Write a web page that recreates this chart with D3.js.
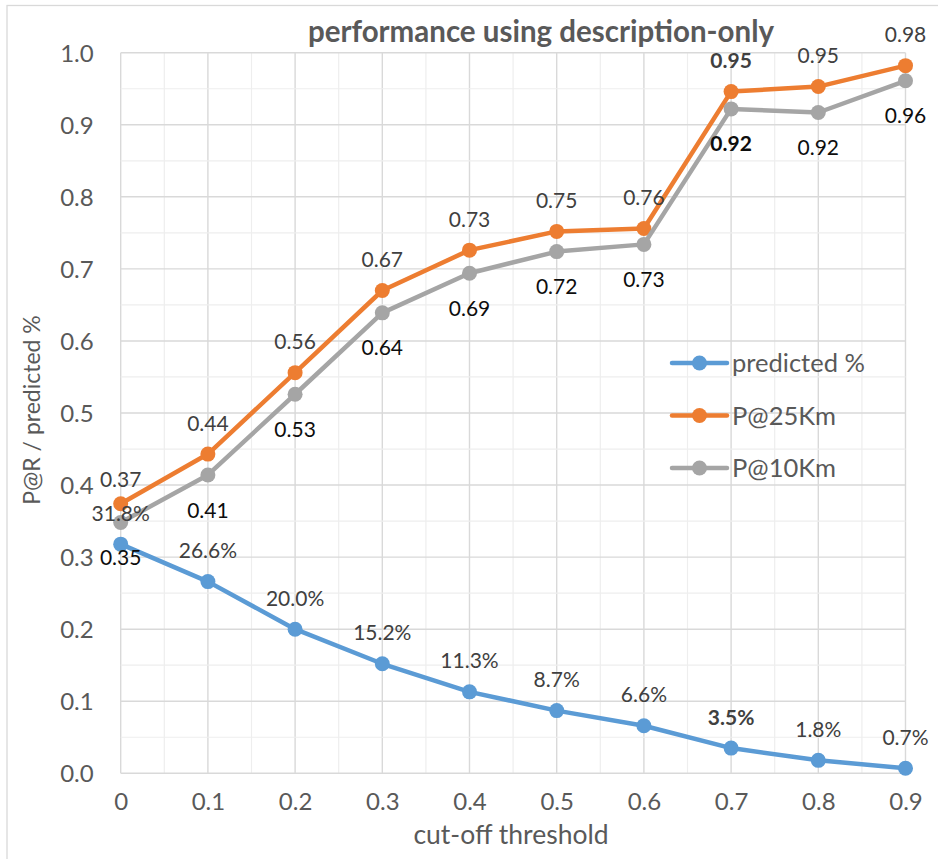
<!DOCTYPE html>
<html>
<head>
<meta charset="utf-8">
<script src="https://cdn.jsdelivr.net/npm/d3@7/dist/d3.min.js"></script>
<style>
  html, body { margin: 0; padding: 0; background: #fff; }
  svg { display: block; font-family: Lato, "Open Sans", sans-serif; }
</style>
</head>
<body>
<svg id="chart" width="938" height="859"></svg>
<script>
// Cut-off thresholds (x categories)
const thresholds = [0, 0.1, 0.2, 0.3, 0.4, 0.5, 0.6, 0.7, 0.8, 0.9];
// Share of items predicted at each threshold
const predicted = [0.318, 0.266, 0.200, 0.152, 0.113, 0.087, 0.066, 0.035, 0.018, 0.007];
// Precision within 25 km
const p25 = [0.374, 0.443, 0.556, 0.670, 0.726, 0.752, 0.756, 0.946, 0.953, 0.982];
// Precision within 10 km
const p10 = [0.348, 0.414, 0.526, 0.639, 0.694, 0.724, 0.734, 0.922, 0.917, 0.961];
const seriesNames = ["predicted %", "P@25Km", "P@10Km"];
const yTicks = [0, 0.1, 0.2, 0.3, 0.4, 0.5, 0.6, 0.7, 0.8, 0.9, 1.0];
const boldIndex = 7;

const svg = d3.select("#chart");
const W = 938, H = 859;
const plotL = 120.7, plotR = 905.5, plotT = 52.7, plotB = 773.3;

const x = d3.scaleLinear().domain([0, 0.9]).range([plotL, plotR]);
const y = d3.scaleLinear().domain([0, 1]).range([plotB, plotT]);

// Outer chart frame
svg.append("rect").attr("x", 7).attr("y", 5.5).attr("width", W + 10).attr("height", H + 10)
  .attr("fill", "#fff").attr("stroke", "#d9d9d9").attr("stroke-width", 1.3);

// Minor and major gridlines every 0.05
const grid = svg.append("g");
const minorX = d3.range(0, 19).map(i => i * 0.05);
const minorY = d3.range(0, 21).map(i => i * 0.05);
minorX.forEach((v, i) => {
  grid.append("line").attr("x1", x(v)).attr("x2", x(v)).attr("y1", plotT).attr("y2", plotB)
    .attr("stroke", i % 2 ? "#eeeeee" : "#d9d9d9").attr("stroke-width", i % 2 ? 1.2 : 1.4);
});
minorY.forEach((v, i) => {
  grid.append("line").attr("x1", plotL).attr("x2", plotR).attr("y1", y(v)).attr("y2", y(v))
    .attr("stroke", i % 2 ? "#eeeeee" : "#d9d9d9").attr("stroke-width", i % 2 ? 1.2 : 1.4);
});

// Axes (labels only)
const xAxis = svg.append("g").attr("transform", `translate(0,${plotB})`)
  .call(d3.axisBottom(x).tickValues(thresholds).tickFormat(d3.format("")).tickSize(0).tickPadding(37));
const yAxis = svg.append("g").attr("transform", `translate(${plotL},0)`)
  .call(d3.axisLeft(y).tickValues(yTicks).tickFormat(d3.format(".1f")).tickSize(0).tickPadding(27));
[xAxis, yAxis].forEach(a => {
  a.select(".domain").remove();
  a.selectAll("text").attr("font-size", 24).attr("fill", "#595959").attr("font-family", "Lato, 'Open Sans', sans-serif");
});
yAxis.selectAll("text").attr("dy", "0.36em");
xAxis.selectAll("text").attr("dy", "0");

// Title and axis titles
svg.append("text").attr("x", 541).attr("y", 42).attr("text-anchor", "middle")
  .attr("font-size", 29.5).attr("font-weight", "bold").attr("fill", "#595959")
  .text("performance using description-only");
svg.append("text").attr("x", 511).attr("y", 844).attr("text-anchor", "middle")
  .attr("font-size", 26.5).attr("fill", "#595959").text("cut-off threshold");
svg.append("text").attr("transform", "translate(40,410) rotate(-90)").attr("text-anchor", "middle")
  .attr("font-size", 23).attr("fill", "#595959").text("P@R / predicted %");

const colors = ["#5b9bd5", "#ed7d31", "#a5a5a5"];
const series = [predicted, p25, p10];
const line = d3.line().x((d, i) => x(thresholds[i])).y(d => y(d));

// Draw in series order so the later series sit on top
series.forEach((vals, s) => {
  const g = svg.append("g");
  g.append("path").datum(vals).attr("d", line).attr("fill", "none")
    .attr("stroke", colors[s]).attr("stroke-width", 4.5).attr("stroke-linejoin", "round");
  g.selectAll("circle").data(vals).join("circle")
    .attr("cx", (d, i) => x(thresholds[i])).attr("cy", d => y(d)).attr("r", 7.5)
    .attr("fill", colors[s]);
});

// Data labels
const fmtPct = d3.format(".1%");
const fmt2 = d3.format(".2f");
function labels(vals, fmt, offsetFn, color) {
  svg.append("g").selectAll("text").data(vals).join("text")
    .attr("x", (d, i) => x(thresholds[i]))
    .attr("y", (d, i) => y(d) + offsetFn(i))
    .attr("dy", "0.36em")
    .attr("text-anchor", "middle")
    .attr("font-size", 21)
    .attr("font-weight", (d, i) => i === boldIndex ? "bold" : "normal")
    .attr("fill", color)
    .text(fmt);
}
labels(predicted, fmtPct, () => -31, "#404040");
labels(p25, fmt2, i => i === 0 ? -24 : -31, "#404040");
labels(p10, fmt2, () => 35, "#0d0d0d");

// Legend
const legend = svg.append("g");
seriesNames.forEach((name, s) => {
  const ly = 363 + s * 52.5;
  legend.append("line").attr("x1", 672).attr("x2", 727).attr("y1", ly).attr("y2", ly)
    .attr("stroke", colors[s]).attr("stroke-width", 4.5).attr("stroke-linecap", "round");
  legend.append("circle").attr("cx", 699.5).attr("cy", ly).attr("r", 7.5).attr("fill", colors[s]);
  legend.append("text").attr("x", 732).attr("y", ly).attr("dy", "0.36em")
    .attr("font-size", 25.5).attr("fill", "#595959").text(name);
});
</script>
</body>
</html>
